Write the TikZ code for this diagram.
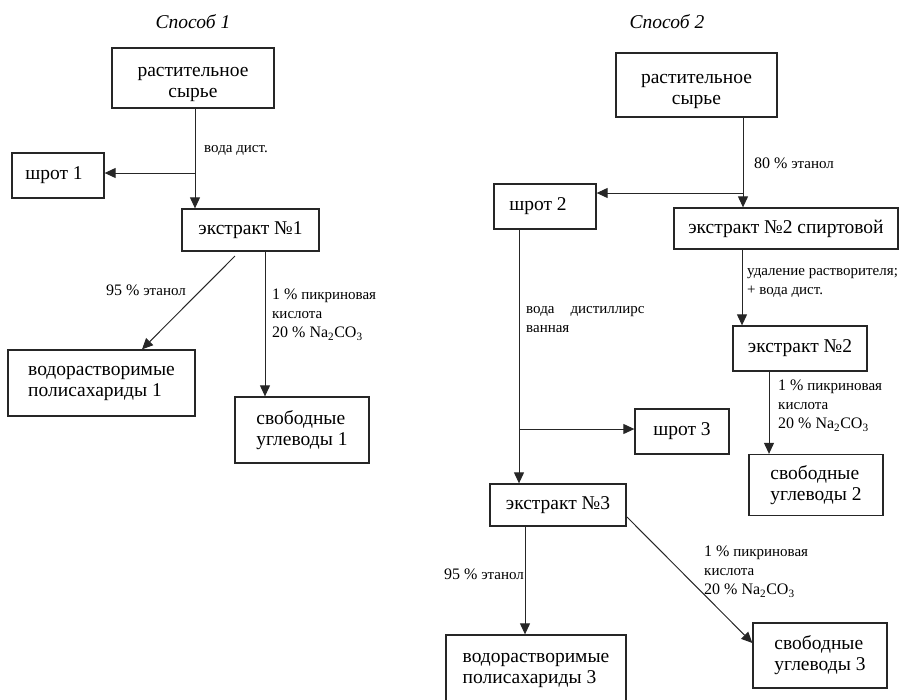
\documentclass[tikz,border=0pt]{standalone}
\usepackage{fontspec}
\setmainfont{Liberation Serif}
\usetikzlibrary{arrows.meta}
\newcommand{\bg}[1]{{\fontsize{16}{19}\selectfont #1}}
\begin{document}
\begin{tikzpicture}[x=1pt,y=-1pt,
  box/.style={draw=black!85, line width=1.3pt, rectangle, inner sep=0pt, align=center,
    font=\fontsize{19.5}{21}\selectfont},
  lowtext/.style={text height=44pt, text depth=4.3pt},
  lbl/.style={inner sep=0pt, align=left, anchor=west, font=\fontsize{15}{19}\selectfont},
  ttl/.style={inner sep=0pt, font=\fontsize{19.5}{21}\selectfont\itshape},
  arr/.style={draw=black!85, line width=1pt, -{Triangle[length=11pt,width=10pt]}}]
\useasboundingbox (0,0) rectangle (904,699);
% titles
\node[ttl] (t1) at (193,22) {Способ 1};
\node[ttl] (t2) at (667,22) {Способ 2};
% method 1
\node[box, lowtext, minimum width=162pt, minimum height=60pt] (rs1) at (193,78) {растительное\\сырье};
\node[box, minimum width=92pt, minimum height=45pt] (shrot1) at (58,175.5) {шрот 1\hspace{8pt}};
\node[box, minimum width=137pt, minimum height=42pt] (ext1) at (250.5,230) {экстракт №1};
\node[box, minimum width=187pt, minimum height=66pt, align=left] (vp1) at (101.5,383) {водорастворимые\\полисахариды 1\hspace{8pt}};
\node[box, minimum width=134pt, minimum height=66pt, align=left] (sv1) at (302,430) {свободные\\углеводы 1};
% method 2
\node[box, lowtext, minimum width=161pt, minimum height=64pt] (rs2) at (696.5,85) {растительное\\сырье};
\node[box, minimum width=102pt, minimum height=45pt] (shrot2) at (545,206.5) {шрот 2\hspace{14pt}};
\node[box, minimum width=224pt, minimum height=41pt] (ext2s) at (786,228.5) {экстракт №2 спиртовой};
\node[box, minimum width=134pt, minimum height=45pt] (ext2) at (800,348.5) {экстракт №2};
\node[box, minimum width=94pt, minimum height=45pt] (shrot3) at (682,431.5) {шрот 3};
\node[box, minimum width=134pt, minimum height=61pt, align=left] (sv2) at (816,485) {свободные\\углеводы 2};
\node[box, minimum width=136pt, minimum height=42pt] (ext3) at (558,505) {экстракт №3};
\node[box, minimum width=180pt, minimum height=70pt, align=left] (vp3) at (536,670) {водорастворимые\\полисахариды 3};
\node[box, minimum width=134pt, minimum height=65pt, align=left] (sv3) at (820,655.5) {свободные\\углеводы 3};
% labels
\node[lbl] (l1) at (204,150) {вода дист.};
\node[lbl] (l2) at (106,290) {\bg{95 \%} этанол};
\node[lbl] (l3) at (272,315) {\bg{1 \%} пикриновая\\кислота\\\bg{20 \% Na\textsubscript{2}CO\textsubscript{3}}};
\node[lbl] (l4) at (754,163) {\bg{80 \%} этанол};
\node[lbl] (l5) at (747,283) {удаление растворителя;\\+ вода дист.};
\node[lbl] (l6) at (526,320) {вода\hspace{16pt}дистиллирс\\ванная};
\node[lbl] (l7) at (778,406) {\bg{1 \%} пикриновая\\кислота\\\bg{20 \% Na\textsubscript{2}CO\textsubscript{3}}};
\node[lbl] (l8) at (444,574) {\bg{95 \%} этанол};
\node[lbl] (l9) at (704,572) {\bg{1 \%} пикриновая\\кислота\\\bg{20 \% Na\textsubscript{2}CO\textsubscript{3}}};
% connectors method 1
\coordinate (a1) at (195,173);
\draw[arr] (rs1.south -| a1) -- (ext1.north -| a1);
\draw[arr] (a1) -- (a1 -| shrot1.east);
\coordinate (c1) at (265,0);
\draw[arr] (ext1.south -| c1) -- (sv1.north -| c1);
\coordinate (d1s) at (235,256);
\coordinate (d1x) at (142,0);
\draw[arr] (d1s) -- (vp1.north -| d1x);
% connectors method 2
\coordinate (a2) at (743,193);
\draw[arr] (rs2.south -| a2) -- (ext2s.north -| a2);
\draw[arr] (a2) -- (a2 -| shrot2.east);
\coordinate (a3) at (742,0);
\draw[arr] (ext2s.south -| a3) -- (ext2.north -| a3);
\coordinate (a4) at (519,429);
\draw[arr] (shrot2.south -| a4) -- (ext3.north -| a4);
\draw[arr] (a4) -- (a4 -| shrot3.west);
\coordinate (a5) at (769,0);
\draw[arr] (ext2.south -| a5) -- (sv2.north -| a5);
\coordinate (a6) at (525,0);
\draw[arr] (ext3.south -| a6) -- (vp3.north -| a6);
\coordinate (e1) at (627,517);
\coordinate (e2) at (753,643);
\draw[arr] (e1) -- (sv3.west |- e2);
\end{tikzpicture}
\end{document}
